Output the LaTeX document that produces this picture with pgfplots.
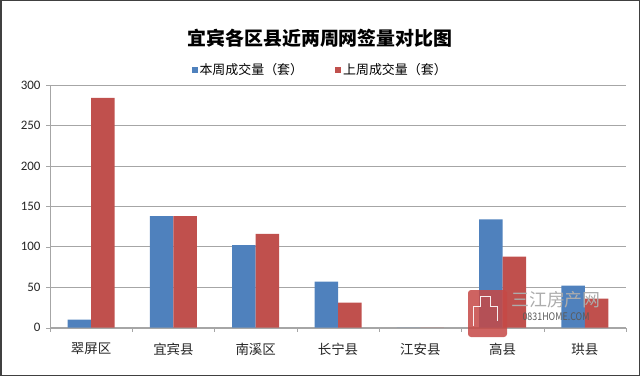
\documentclass[border=0pt]{standalone}
\usepackage{fontspec}
\setmainfont{Noto Sans CJK SC}
\newfontfamily\numfont{Carlito}
\usepackage{pgfplots}
\pgfplotsset{compat=1.18}
\definecolor{cblue}{HTML}{4F81BD}
\definecolor{cred}{HTML}{C0504D}
\definecolor{cgrid}{HTML}{A6A6A6}
\begin{document}
\begin{tikzpicture}[x=1bp,y=1bp]
\useasboundingbox (0,0) rectangle (640,376);
\draw[line width=1.5bp, black!75] (0.75,0.75) rectangle (639.25,375.25);
\node[font=\fontsize{19}{20}\selectfont\bfseries] at (320,338) {宜宾各区县近两周网签量对比图};
\begin{axis}[
  at={(50bp,48.3bp)}, anchor=south west,
  scale only axis, width=576bp, height=242.7bp,
  xmin=-0.5, xmax=6.5, ymin=0, ymax=300,
  ytick={0,50,...,300},
  ybar=0pt, bar width=23.5bp,
  axis lines*=left,
  axis line style={draw=cgrid},
  ymajorgrids, grid style={draw=cgrid, line width=0.8bp},
  xtick={0,...,6},
  xticklabels={翠屏区,宜宾县,南溪区,长宁县,江安县,高县,珙县},
  major x tick style={draw=none},
  minor xtick={-0.5,0.5,...,6.5},
  minor tick length=4bp, major tick length=4bp,
  tick align=outside,
  minor x tick style={draw=cgrid},
  major y tick style={draw=cgrid},
  /pgf/number format/assume math mode=true,
  yticklabel style={font=\numfont\fontsize{13}{13}\selectfont, xshift=-2bp, text=black!85},
  xticklabel style={font=\fontsize{13.5}{14}\selectfont, yshift=-8bp, text=black!85},
  legend style={at={(0.469,1.062)}, anchor=center, draw=none, fill=none,
    font=\fontsize{13}{14}\selectfont,
    /tikz/every even column/.append style={column sep=30bp}},
  legend columns=2,
  legend image code/.code={\fill[#1] (1bp,-3bp) rectangle (7bp,3bp);},
]
\addplot[fill=cblue, draw=none] coordinates {(0,10) (1,138) (2,102) (3,57) (4,0) (5,134) (6,52)};
\addplot[fill=cred, draw=none] coordinates {(0,284) (1,138) (2,116) (3,31) (4,0) (5,88) (6,36)};
\legend{本周成交量（套）,上周成交量（套）}
\end{axis}
% watermark
\fill[cred!90!red, opacity=0.85, rounded corners=3bp] (468,39) rectangle (507,86);
\draw[white, line width=1bp, opacity=0.9] (473,50) -- (473,70) -- (480,70) -- (480,80) -- (490,80) -- (490,70) -- (497,70) -- (497,55);
\node[font=\fontsize{18}{18}\selectfont, text=gray!65, inner sep=0] at (556,76) {三江房产网};
\node[font=\fontsize{10.5}{10.5}\selectfont, text=black!65, inner sep=0, xscale=0.85] at (556,59) {0831HOME.COM};
\end{tikzpicture}
\end{document}
